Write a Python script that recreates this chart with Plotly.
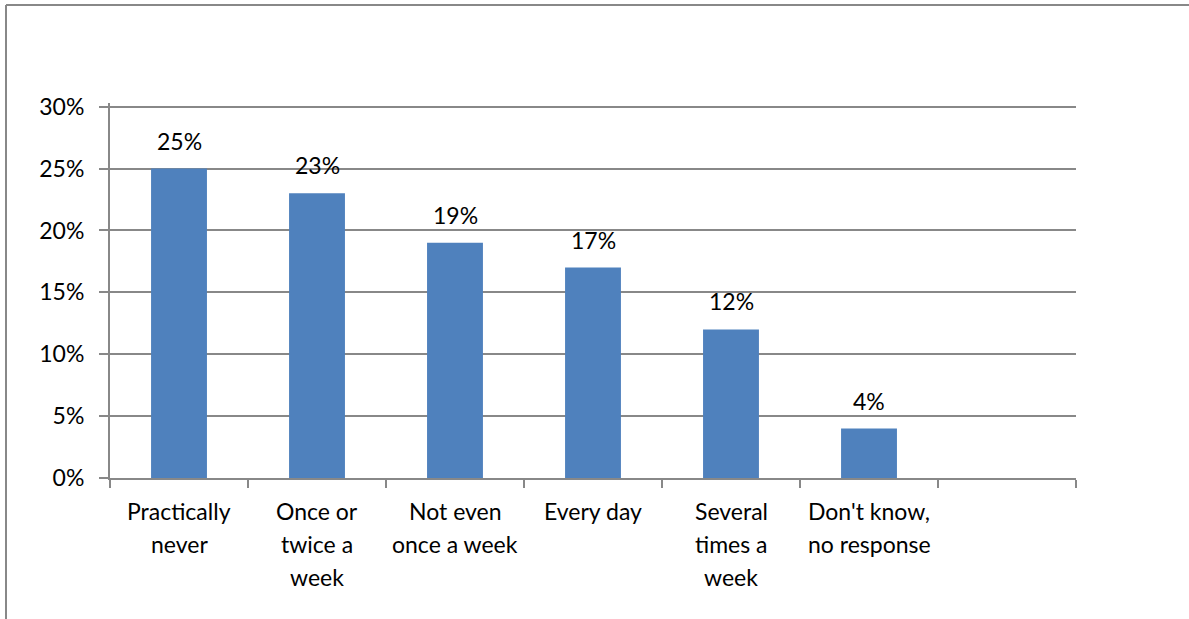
import plotly.graph_objects as go

categories = ["Practically\nnever", "Once or\ntwice a\nweek", "Not even\nonce a week",
              "Every day", "Several\ntimes a\nweek", "Don't know,\nno response"]
values = [25, 23, 19, 17, 12, 4]
value_labels = ["25%", "23%", "19%", "17%", "12%", "4%"]
y_ticks = [0, 5, 10, 15, 20, 25, 30]
y_tick_labels = ["0%", "5%", "10%", "15%", "20%", "25%", "30%"]

FONT = "Lato"
FS = 23
GRAY = "#888888"
BAR = "#4F81BD"

W, H = 1189, 619
L, R, T, B = 110, 113, 103, 141
PW, PH = W - L - R, H - T - B


def px_x(x):
    return (x - L) / PW


def px_y(y):
    return (H - B - y) / PH


x_pos = list(range(len(categories)))

fig = go.Figure()
fig.add_trace(go.Bar(x=x_pos, y=values, marker=dict(color=BAR, line=dict(width=0)),
                     width=0.405, hoverinfo="skip"))

annotations = []
for i, (v, t) in enumerate(zip(values, value_labels)):
    annotations.append(dict(x=i, y=v, xref="x", yref="y", text=t, showarrow=False,
                            yanchor="middle", yshift=28,
                            font=dict(family=FONT, size=FS, color="#000000")))
for i, cat in enumerate(categories):
    for k, line in enumerate(cat.split("\n")):
        annotations.append(dict(x=i, y=0, xref="x", yref="y", text=line, showarrow=False,
                                yanchor="middle", yshift=-(33 + 33 * k),
                                font=dict(family=FONT, size=FS, color="#000000")))

fig.update_layout(
    width=W, height=H,
    margin=dict(l=L, r=R, t=T, b=B),
    paper_bgcolor="white", plot_bgcolor="white",
    showlegend=False,
    annotations=annotations,
    font=dict(family=FONT, size=FS, color="#000000"),
    xaxis=dict(range=[-0.5, 6.5], tickvals=[], showgrid=False, zeroline=False,
               showline=True, linecolor=GRAY, linewidth=2,
               minor=dict(tickmode="linear", tick0=-0.5, dtick=1, ticks="outside",
                          ticklen=8, tickcolor=GRAY, tickwidth=2, showgrid=False),
               fixedrange=True),
    yaxis=dict(range=[0, 30.3], tickvals=y_ticks, ticktext=y_tick_labels,
               showgrid=True, gridcolor=GRAY, gridwidth=2, zeroline=False,
               showline=True, linecolor=GRAY, linewidth=2,
               ticks="outside", ticklen=9, tickcolor=GRAY, tickwidth=2,
               ticklabelstandoff=10,
               tickfont=dict(family=FONT, size=FS, color="#000000"),
               fixedrange=True),
    shapes=[
        dict(type="line", xref="paper", yref="paper",
             x0=px_x(6), x1=px_x(6), y0=px_y(5), y1=px_y(640),
             line=dict(color=GRAY, width=2)),
        dict(type="line", xref="paper", yref="paper",
             x0=px_x(6), x1=px_x(1200), y0=px_y(5), y1=px_y(5),
             line=dict(color=GRAY, width=2)),
    ],
)

fig.write_html("out.html", config={"displayModeBar": False, "staticPlot": True},
               post_script="document.body.style.margin='0';document.body.style.overflow='hidden';")
